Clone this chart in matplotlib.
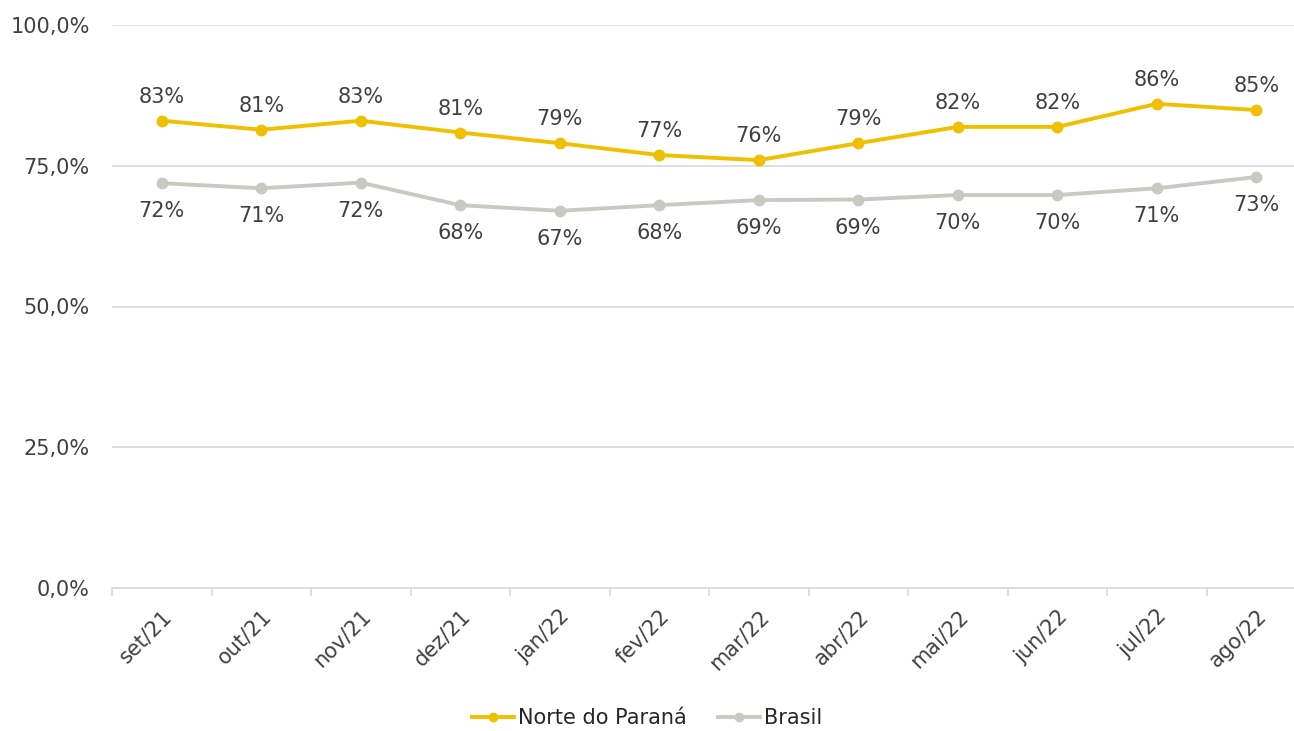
import matplotlib.pyplot as plt
from matplotlib.ticker import FuncFormatter, FixedLocator

# data
months = ['set/21', 'out/21', 'nov/21', 'dez/21', 'jan/22', 'fev/22',
          'mar/22', 'abr/22', 'mai/22', 'jun/22', 'jul/22', 'ago/22']
norte = [83.0, 81.4, 83.0, 80.9, 79.0, 76.9, 76.0, 79.0, 81.9, 81.9, 86.0, 84.9]
brasil = [71.9, 71.0, 72.0, 68.0, 67.0, 68.0, 68.9, 69.0, 69.8, 69.8, 71.0, 73.0]

yellow = '#EEC000'
gray = '#C9C9C3'
text_col = '#404040'

W, H = 1294, 731
fig = plt.figure(figsize=(W / 100, H / 100), dpi=100)
ax = fig.add_axes([112 / W, 1 - 588 / H, (1306 - 112) / W, (588 - 25) / H])

x = list(range(len(months)))
ax.plot(x, norte, color=yellow, lw=2.8, marker='o', ms=7.5, label='Norte do Paraná', zorder=3)
ax.plot(x, brasil, color=gray, lw=2.8, marker='o', ms=7.5, label='Brasil', zorder=3)

for i in x:
    ax.annotate(f'{norte[i]:.0f}%', (i, norte[i]), xytext=(0, 10), textcoords='offset points',
                ha='center', va='bottom', fontsize=15, color=text_col)
    ax.annotate(f'{brasil[i]:.0f}%', (i, brasil[i]), xytext=(0, -13), textcoords='offset points',
                ha='center', va='top', fontsize=15, color=text_col)

ax.set_xlim(-0.5, len(months) - 0.5)
ax.set_ylim(0, 100)
ax.set_yticks([0, 25, 50, 75, 100])
ax.yaxis.set_major_formatter(FuncFormatter(lambda v, p: f'{v:.1f}%'.replace('.', ',')))
ax.grid(axis='y', color='#D9D9D9', lw=1.2)
ax.set_axisbelow(True)

ax.set_xticks(x)
ax.set_xticklabels(months, rotation=45, ha='right', rotation_mode='anchor')
ax.xaxis.set_minor_locator(FixedLocator([i - 0.5 for i in range(len(months) + 1)]))
ax.tick_params(axis='x', which='major', length=0, pad=13, labelsize=15, labelcolor=text_col)
ax.tick_params(axis='x', which='minor', length=6, color='#D9D9D9', width=1.2)
ax.tick_params(axis='y', length=0, pad=16, labelsize=15, labelcolor=text_col)

for s in ['top', 'right', 'left']:
    ax.spines[s].set_visible(False)
ax.spines['bottom'].set_color('#D9D9D9')
ax.spines['bottom'].set_linewidth(1.2)

fig.legend(loc='center', bbox_to_anchor=(0.5, 1 - 718 / H), ncol=2, frameon=False,
           fontsize=15, handlelength=2.0, columnspacing=1.5, handletextpad=0.2,
           markerscale=0.8, labelcolor='#262626')

fig.savefig('out.png', dpi=100, facecolor='white')
